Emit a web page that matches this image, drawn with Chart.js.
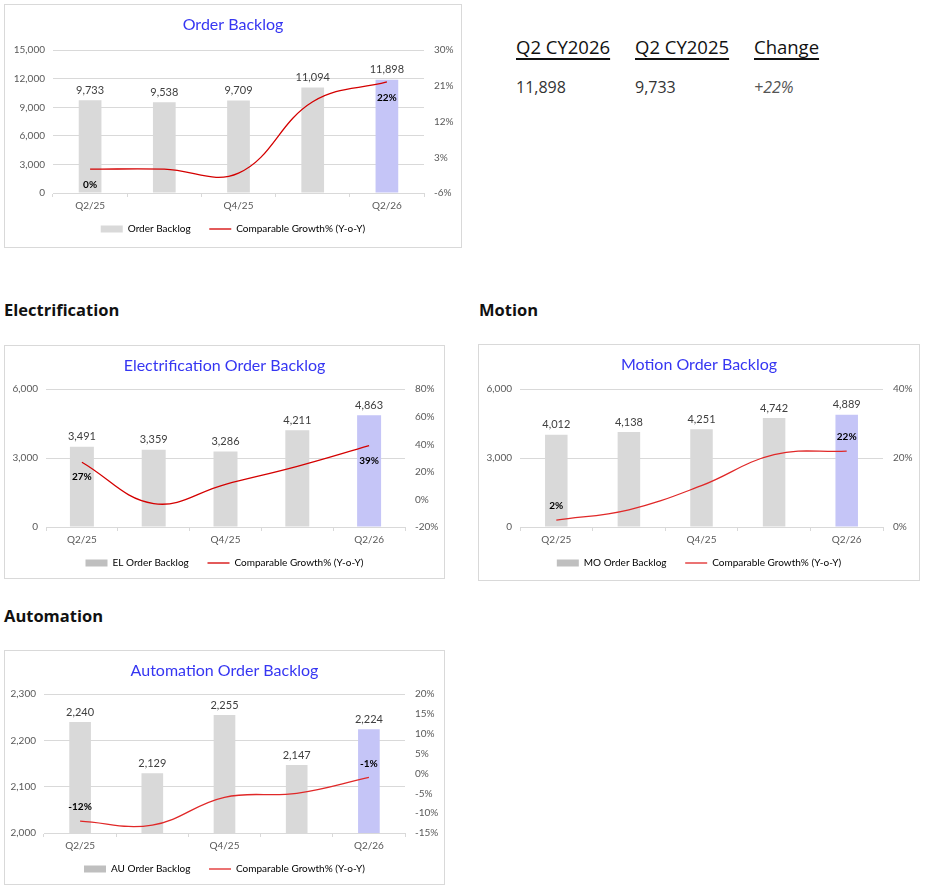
<!DOCTYPE html>
<html lang="en">
<head>
  <meta charset="utf-8">
  <title>Order Backlog</title>
  <script src="https://cdn.jsdelivr.net/npm/chart.js@4.4.3/dist/chart.umd.min.js"></script>
  <style>
    body { margin: 0; background: #fff; font-family: "Open Sans", sans-serif; color: #111; }
    .page { position: relative; width: 928px; height: 888px; }
    .box { position: absolute; border: 1px solid #d9d9d9; box-sizing: border-box; background: #fff; }
    .box canvas { display: block; }
    .heading { position: absolute; font-weight: 700; font-size: 16.5px; color: #111; }
    .summary { position: absolute; left: 516px; top: 34px; font-size: 18.5px; }
    .summary .col { position: absolute; top: 0; white-space: nowrap; }
    .summary .hd { text-decoration: underline; text-underline-offset: 4px; text-decoration-thickness: 1.5px; }
    .summary .val { position: absolute; top: 42px; font-size: 16px; color: #333; }
  </style>
</head>
<body>
<div class="page">
  <div class="box" style="left:4px;top:4px;width:458px;height:244px"><canvas id="totalChart"></canvas></div>

  <div class="summary">
    <div class="col" style="left:0"><span class="hd">Q2 CY2026</span><div class="val">11,898</div></div>
    <div class="col" style="left:119px"><span class="hd">Q2 CY2025</span><div class="val">9,733</div></div>
    <div class="col" style="left:238px"><span class="hd">Change</span><div class="val" style="font-style:italic;color:#555">+22%</div></div>
  </div>

  <div class="heading" style="left:4px;top:298px">Electrification</div>
  <div class="heading" style="left:479px;top:298px">Motion</div>
  <div class="heading" style="left:4px;top:604px">Automation</div>

  <div class="box" style="left:4px;top:345px;width:441px;height:234px"><canvas id="elChart"></canvas></div>
  <div class="box" style="left:478px;top:344px;width:442px;height:237px"><canvas id="moChart"></canvas></div>
  <div class="box" style="left:4px;top:650px;width:441px;height:235px"><canvas id="auChart"></canvas></div>
</div>

<script>
  // quarters on the x axis (only every other one is labelled)
  const quarters = ['Q2/25', 'Q3/25', 'Q4/25', 'Q1/26', 'Q2/26'];

  // group order backlog and comparable growth (%)
  const totalBacklog = [9733, 9538, 9709, 11094, 11898];
  const totalGrowth = [0, 0, -1, 17, 22];

  const elBacklog = [3491, 3359, 3286, 4211, 4863];
  const elGrowth = [27, -3, 11, 24, 39];

  const moBacklog = [4012, 4138, 4251, 4742, 4889];
  const moGrowth = [2, 5, 12, 21, 22];

  const auBacklog = [2240, 2129, 2255, 2147, 2224];
  const auGrowth = [-12, -13, -6, -5, -1];

  const FONT = 'Lato, "Open Sans", sans-serif';
  const GREY_BAR = '#d9d9d9';
  const LAST_BAR = '#c5c5f7';
  const TEXT = '#595959';

  // value labels above the bars, growth labels on first/last point only
  const valueLabels = {
    id: 'valueLabels',
    afterDatasetsDraw(chart, args, opts) {
      const ctx = chart.ctx;
      ctx.save();
      ctx.textAlign = 'center';
      ctx.textBaseline = 'middle';

      const bars = chart.getDatasetMeta(0);
      ctx.font = '11px ' + FONT;
      ctx.fillStyle = '#404040';
      bars.data.forEach((el, i) => {
        const v = chart.data.datasets[0].data[i];
        ctx.fillText(v.toLocaleString('en-US'), el.x, el.y - 10);
      });

      const line = chart.getDatasetMeta(1);
      const last = line.data.length - 1;
      ctx.font = 'bold 10px ' + FONT;
      ctx.fillStyle = '#000';
      [0, last].forEach(i => {
        const el = line.data[i];
        const v = chart.data.datasets[1].data[i];
        ctx.fillText(v + '%', el.x, el.y + opts.offset);
      });
      ctx.restore();
    }
  };

  function makeChart(id, title, barLabel, backlog, growth, left, right, lineColor, legendBox, dims) {
    const box = document.getElementById(id).parentElement;
    const canvas = document.getElementById(id);
    canvas.width = box.clientWidth;
    canvas.height = box.clientHeight;
    canvas.style.width = box.clientWidth + 'px';
    canvas.style.height = box.clientHeight + 'px';

    return new Chart(canvas, {
      type: 'bar',
      data: {
        labels: quarters,
        datasets: [
          {
            type: 'bar',
            label: barLabel,
            data: backlog,
            yAxisID: 'y',
            order: 2,
            backgroundColor: backlog.map((v, i) => i === backlog.length - 1 ? LAST_BAR : GREY_BAR),
            barPercentage: dims.bar,
            categoryPercentage: 1
          },
          {
            type: 'line',
            label: 'Comparable Growth% (Y-o-Y)',
            data: growth,
            yAxisID: 'y1',
            order: 1,
            borderColor: lineColor,
            borderWidth: 1.3,
            pointRadius: 0,
            tension: 0.4,
            fill: false
          }
        ]
      },
      options: {
        responsive: false,
        animation: false,
        layout: { padding: { top: 0, bottom: dims.padBottom, left: 0, right: 0 } },
        plugins: {
          tooltip: { enabled: false },
          title: {
            display: true,
            text: title,
            color: '#3636f2',
            font: { family: FONT, size: 16, weight: 'normal' },
            padding: { top: dims.titleTop, bottom: dims.titleBottom }
          },
          legend: {
            position: 'bottom',
            labels: {
              font: { family: FONT, size: 10 },
              color: TEXT,
              usePointStyle: true,
              pointStyleWidth: 22,
              boxHeight: 7,
              padding: 11,
              generateLabels: () => [
                { text: barLabel + '   ', pointStyle: 'rect', fillStyle: legendBox, strokeStyle: legendBox, lineWidth: 0, datasetIndex: 0 },
                { text: 'Comparable Growth% (Y-o-Y)', pointStyle: 'line', fillStyle: lineColor, strokeStyle: lineColor, lineWidth: 1.3, datasetIndex: 1 }
              ]
            }
          },
          valueLabels: { offset: dims.labelOffset }
        },
        scales: {
          x: {
            offset: true,
            grid: { display: true, offset: true, drawOnChartArea: false, drawTicks: true, tickLength: 4, color: '#d9d9d9' },
            border: { display: true, color: '#d9d9d9' },
            ticks: {
              color: TEXT,
              font: { family: FONT, size: 10 },
              maxRotation: 0,
              autoSkip: false,
              padding: 3,
              callback: (v, i) => i % 2 === 0 ? quarters[i] : ''
            },
            afterFit: s => { s.height = 20; }
          },
          y: {
            position: 'left',
            min: left[0], max: left[1],
            grid: { color: '#d9d9d9', drawTicks: false },
            border: { display: false },
            ticks: {
              stepSize: left[2],
              color: TEXT,
              padding: 8,
              font: { family: FONT, size: 10 },
              callback: v => v.toLocaleString('en-US')
            },
            afterFit: s => { s.width = dims.leftW; }
          },
          y1: {
            position: 'right',
            min: right[0], max: right[1],
            grid: { drawOnChartArea: false, drawTicks: false },
            border: { display: false },
            ticks: {
              stepSize: right[2],
              color: TEXT,
              padding: 10,
              font: { family: FONT, size: 10 },
              callback: v => v + '%'
            },
            afterFit: s => { s.width = dims.rightW; }
          }
        }
      },
      plugins: [valueLabels]
    });
  }

  makeChart('totalChart', 'Order Backlog', 'Order Backlog', totalBacklog, totalGrowth,
    [0, 15000, 3000], [-6, 30, 9], '#d40000', '#d9d9d9',
    { bar: 0.306, leftW: 48, rightW: 37, titleTop: 10, titleBottom: 16, padBottom: 3, labelOffset: 16 });

  makeChart('elChart', 'Electrification Order Backlog', 'EL Order Backlog', elBacklog, elGrowth,
    [0, 6000, 3000], [-20, 80, 20], '#d40000', '#bfbfbf',
    { bar: 0.334, leftW: 41, rightW: 39, titleTop: 10, titleBottom: 14, padBottom: 0, labelOffset: 15 });

  makeChart('moChart', 'Motion Order Backlog', 'MO Order Backlog', moBacklog, moGrowth,
    [0, 6000, 3000], [0, 40, 20], '#e02828', '#bfbfbf',
    { bar: 0.31, leftW: 41, rightW: 36, titleTop: 10, titleBottom: 15, padBottom: 2, labelOffset: -14 });

  makeChart('auChart', 'Automation Order Backlog', 'AU Order Backlog', auBacklog, auGrowth,
    [2000, 2300, 100], [-15, 20, 5], '#e02828', '#bfbfbf',
    { bar: 0.30, leftW: 39, rightW: 39, titleTop: 10, titleBottom: 14, padBottom: 0, labelOffset: -14 });
</script>
</body>
</html>
